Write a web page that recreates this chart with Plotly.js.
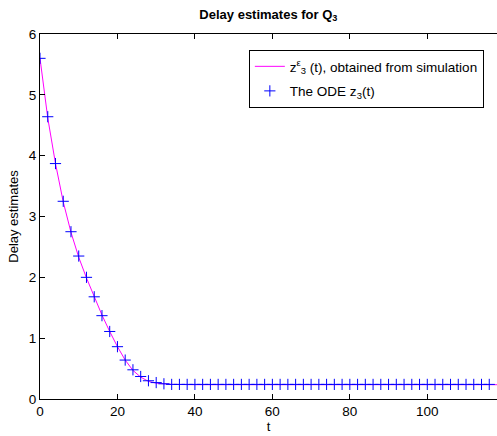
<!DOCTYPE html>
<html>
<head>
<meta charset="utf-8">
<script src="https://cdn.plot.ly/plotly-3.0.1.min.js"></script>
<style>html,body{margin:0;padding:0;background:#fff;}#chart{width:497px;height:436px;}</style>
</head>
<body>
<div id="chart"></div>
<script>
var tOde = [0,2,4,6,8,10,12,14,16,18,20,22,24,26,28,30,32,34,36,38,40,42,44,46,48,50,52,54,56,58,60,62,64,66,68,70,72,74,76,78,80,82,84,86,88,90,92,94,96,98,100,102,104,106,108,110,112,114,116];
var zOde = [5.60,4.64,3.87,3.25,2.75,2.35,2.00,1.68,1.37,1.11,0.86,0.64,0.48,0.37,0.30,0.27,0.25,0.24,0.24,0.24,0.24,0.24,0.24,0.24,0.24,0.24,0.24,0.24,0.24,0.24,0.24,0.24,0.24,0.24,0.24,0.24,0.24,0.24,0.24,0.24,0.24,0.24,0.24,0.24,0.24,0.24,0.24,0.24,0.24,0.24,0.24,0.24,0.24,0.24,0.24,0.24,0.24,0.24,0.24];
var tSim = [0,2,4,6,8,10,12,14,16,18,20,22,24,26,28,30,32,34,40,50,60,70,80,90,100,110,118];
var zSim = [5.60,4.62,3.87,3.24,2.74,2.33,1.99,1.68,1.38,1.11,0.86,0.64,0.47,0.36,0.29,0.26,0.25,0.24,0.235,0.235,0.235,0.235,0.235,0.235,0.235,0.235,0.235];
var xTicks = [0,20,40,60,80,100];
var yTicks = [0,1,2,3,4,5,6];

var fam = 'Arial, "Liberation Sans", sans-serif';
var font = {family: fam, size: 13.5, color: '#000'};
var traces = [
  {x: tSim, y: zSim, mode: 'lines', line: {color: '#ff00ff', width: 1},
   name: 'z<sup>ε</sup><sub>3</sub> (t), obtained from simulation', legendgroup: 'a'},
  {x: tOde, y: zOde, mode: 'markers',
   marker: {symbol: 'cross-thin', size: 8, line: {color: '#0000ff', width: 1}, color: '#0000ff'},
   name: 'The ODE z<sub>3</sub>(t)', legendgroup: 'b'}
];
var axisCommon = {showline: true, linecolor: '#000', linewidth: 1, ticks: 'inside',
  ticklen: 5, tickcolor: '#000', showgrid: false, zeroline: false, automargin: false,
  tickfont: {family: fam, size: 13.5, color: '#000'}};
var layout = {
  width: 497, height: 436,
  margin: {l: 40, r: 0, t: 34, b: 37, autoexpand: false},
  paper_bgcolor: '#fff', plot_bgcolor: '#fff',
  font: font,
  title: {text: '<b>Delay estimates for Q<sub>3</sub></b>', font: {family: fam, size: 13, color: '#000'},
    x: 0.54, xanchor: 'center', y: 0.968, yanchor: 'middle'},
  xaxis: Object.assign({}, axisCommon, {mirror: 'ticks', range: [0, 118], tickvals: xTicks, ticktext: xTicks.map(String),
    title: {text: 't', font: {family: fam, size: 13, color: '#000'}, standoff: 0}}),
  yaxis: Object.assign({}, axisCommon, {mirror: false, range: [0, 6], tickvals: yTicks, ticktext: yTicks.map(String),
    title: {text: 'Delay estimates', font: {family: fam, size: 13, color: '#000'}, standoff: 7}}),
  showlegend: true,
  legend: {x: 0.457, y: 0.956, xanchor: 'left', yanchor: 'top', bordercolor: '#000', borderwidth: 1,
    bgcolor: '#fff', font: font, tracegroupgap: 4}
};
Plotly.newPlot('chart', traces, layout, {displayModeBar: false, staticPlot: true});
</script>
</body>
</html>
